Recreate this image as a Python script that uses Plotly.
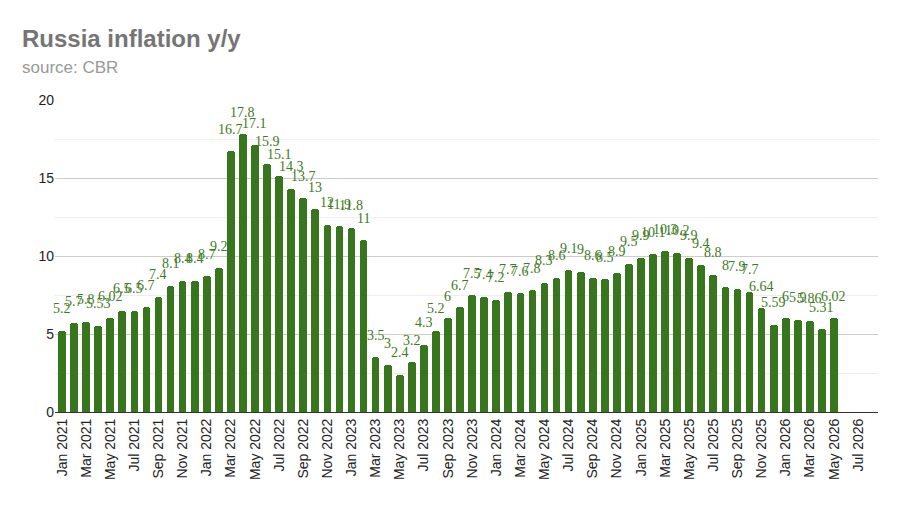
import plotly.graph_objects as go

months = ["Jan", "Feb", "Mar", "Apr", "May", "Jun", "Jul", "Aug", "Sep", "Oct", "Nov", "Dec"]
start_year = 2021
inflation = [
    5.2, 5.7, 5.8, 5.53, 6.02, 6.5, 6.5, 6.7, 7.4, 8.1, 8.4, 8.4,
    8.7, 9.2, 16.7, 17.8, 17.1, 15.9, 15.1, 14.3, 13.7, 13, 12, 11.9,
    11.8, 11, 3.5, 3, 2.4, 3.2, 4.3, 5.2, 6, 6.7, 7.5, 7.4,
    7.2, 7.7, 7.6, 7.8, 8.3, 8.6, 9.1, 9, 8.6, 8.5, 8.9, 9.5,
    9.9, 10.1, 10.3, 10.2, 9.9, 9.4, 8.8, 8, 7.9, 7.7, 6.64, 5.59,
    6, 5.9, 5.86, 5.31, 6.02,
]
n_ticks_months = 67  # through Jul 2026
month_labels = [f"{months[i % 12]} {start_year + i // 12}" for i in range(n_ticks_months)]

xs = list(range(len(inflation)))
labels = [("%g" % v) for v in inflation]

GREEN = "#38761d"

fig = go.Figure()
fig.add_trace(go.Bar(
    x=xs, y=inflation, width=0.64,
    marker=dict(color=GREEN, cornerradius=3, line=dict(width=0)),
    hoverinfo="skip",
))

for x, v, t in zip(xs, inflation, labels):
    fig.add_annotation(
        x=x, y=v, text=t, showarrow=False, xanchor="center", yanchor="middle",
        yshift=22, font=dict(family="Liberation Serif, Times New Roman, serif", size=14, color="#3d7a22"),
    )

# Title and subtitle
fig.add_annotation(
    xref="paper", yref="paper", x=-35 / 823, y=1.198, xanchor="left", yanchor="middle",
    text="<b>Russia inflation y/y</b>", showarrow=False,
    font=dict(family="Arial, Liberation Sans, sans-serif", size=24, color="#757575"),
)
fig.add_annotation(
    xref="paper", yref="paper", x=-35 / 823, y=1.103, xanchor="left", yanchor="middle",
    text="source: CBR", showarrow=False,
    font=dict(family="Arial, Liberation Sans, sans-serif", size=17, color="#999999"),
)

tickvals = list(range(0, n_ticks_months, 2))
fig.update_layout(
    width=900, height=510,
    margin=dict(l=55, r=22, t=100, b=98),
    paper_bgcolor="white", plot_bgcolor="white",
    showlegend=False,
    bargap=0,
    xaxis=dict(
        range=[-0.58, 67.65],
        tickmode="array", tickvals=tickvals, ticktext=[month_labels[i] for i in tickvals],
        tickangle=-90, showgrid=False, zeroline=False,
        showline=True, linecolor="#333333", linewidth=1,
        ticks="", tickfont=dict(family="Arial, Liberation Sans, sans-serif", size=14, color="#222222"),
    ),
    yaxis=dict(
        range=[0, 20], dtick=5, tick0=0,
        showgrid=True, gridcolor="#cccccc", gridwidth=1,
        zeroline=False, showline=False, ticks="",
        minor=dict(dtick=2.5, showgrid=True, gridcolor="#eeeeee"),
        tickfont=dict(family="Arial, Liberation Sans, sans-serif", size=14, color="#222222"),
    ),
)

fig.write_html("out.html")
